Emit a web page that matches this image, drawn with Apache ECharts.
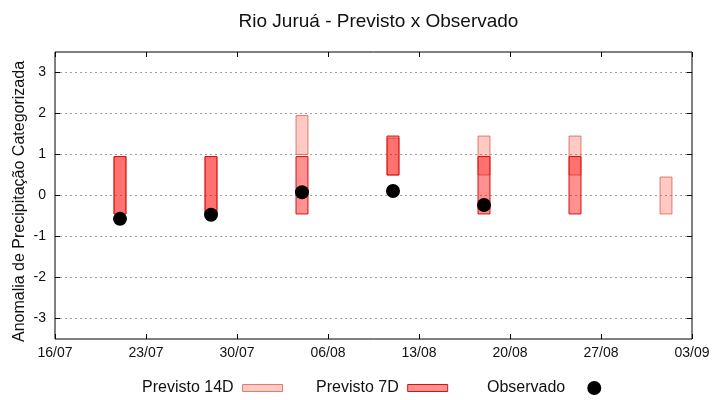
<!DOCTYPE html>
<html>
<head>
<meta charset="utf-8">
<script src="https://cdn.jsdelivr.net/npm/echarts@6/dist/echarts.min.js"></script>
<style>html,body{margin:0;padding:0;background:#fff}#c{width:720px;height:400px}</style>
</head>
<body>
<div id="c"></div>
<script>
// ---- data ----
var startDate = '2024-07-16';
var endDate = '2024-09-03';
var dates = ['2024-07-21','2024-07-28','2024-08-04','2024-08-11','2024-08-18','2024-08-25','2024-09-01'];
var prev14Low  = [-0.45, -0.45, 1.0, 0.5, 0.5, 0.5, -0.45];
var prev14High = [ 0.95,  0.95, 1.95, 1.4, 1.45, 1.45, 0.45];
var prev7Low   = [-0.45, -0.45, -0.45, 0.5, -0.45, -0.45, null];
var prev7High  = [ 0.95,  0.95,  0.95, 1.45, 0.95, 0.95, null];
var observado  = [-0.57, -0.47, 0.08, 0.11, -0.23, null, null];
var yTicks = [-3, -2, -1, 0, 1, 2, 3];

var DAY = 86400000;
function dayIndex(s){ return (Date.parse(s) - Date.parse(startDate)) / DAY; }
function dayLabel(v){
  var d = new Date(Date.parse(startDate) + v * DAY);
  var dd = ('0' + d.getUTCDate()).slice(-2), mm = ('0' + (d.getUTCMonth() + 1)).slice(-2);
  return dd + '/' + mm;
}
var xMax = dayIndex(endDate);

function rangeData(lo, hi){
  var out = [];
  for (var i = 0; i < dates.length; i++) {
    if (lo[i] != null && hi[i] != null) out.push([dayIndex(dates[i]), lo[i], hi[i]]);
  }
  return out;
}
var obsData = [];
for (var i = 0; i < dates.length; i++) if (observado[i] != null) obsData.push([dayIndex(dates[i]), observado[i]]);

var HALF = 0.46;
function renderBar(params, api){
  var x = api.value(0);
  var p1 = api.coord([x - HALF, api.value(2)]);
  var p2 = api.coord([x + HALF, api.value(1)]);
  return {
    type: 'rect',
    shape: { x: p1[0], y: p1[1], width: p2[0] - p1[0], height: p2[1] - p1[1] },
    style: api.style()
  };
}

var style14 = { color: 'rgba(255,40,20,0.25)', borderColor: 'rgba(215,90,70,0.75)', borderWidth: 1 };
var style7  = { color: 'rgba(255,0,0,0.43)', borderColor: '#d81010', borderWidth: 1 };

var font = 'Liberation Sans, Arial, sans-serif';
function legendAt(left, item){
  return {
    top: 380, left: left, padding: 0,
    align: 'right', itemWidth: 40, itemHeight: 14,
    symbolKeepAspect: true,
    textStyle: { fontSize: 16, color: '#111', fontFamily: font, padding: [0, 4, 0, 0] },
    data: [item]
  };
}
var rectIcon = 'path://M0,0 L40,0 L40,7 L0,7 Z';

var chart = echarts.init(document.getElementById('c'), null, { renderer: 'canvas' });
chart.setOption({
  animation: false,
  backgroundColor: '#fff',
  textStyle: { fontFamily: font },
  title: {
    text: 'Rio Juruá - Previsto x Observado',
    left: 373.5, textAlign: 'center', top: 7,
    textStyle: { fontSize: 19, fontWeight: 'normal', color: '#111', fontFamily: font }
  },
  grid: { left: 55, right: 28, top: 52, bottom: 61, show: true, borderColor: '#000', borderWidth: 1, backgroundColor: 'transparent' },
  legend: [
    legendAt(142, { name: 'Previsto 14D', icon: rectIcon, itemStyle: style14 }),
    legendAt(316, { name: 'Previsto 7D', icon: rectIcon, itemStyle: style7 }),
    legendAt(487, { name: 'Observado', icon: 'circle', itemStyle: { color: '#000', opacity: 1 } })
  ],
  xAxis: [{
    type: 'value', min: 0, max: xMax, interval: 7,
    axisLine: { show: false, onZero: false },
    axisTick: { show: true, inside: true, length: 5, lineStyle: { color: '#000' } },
    axisLabel: { formatter: dayLabel, fontSize: 14, color: '#111', margin: 7, fontFamily: font },
    splitLine: { show: false }
  }, {
    type: 'value', min: 0, max: xMax, interval: 7, position: 'top',
    axisLine: { show: false, onZero: false },
    axisTick: { show: true, inside: true, length: 5, lineStyle: { color: '#000' } },
    axisLabel: { show: false },
    splitLine: { show: false }
  }],
  yAxis: [{
    type: 'value', min: -3.5, max: 3.5,
    name: 'Anomalia de Precipitação Categorizada',
    nameLocation: 'middle', nameGap: 27, nameRotate: 90, nameMoveOverlap: false,
    nameTextStyle: { fontSize: 16, color: '#111', fontFamily: font, padding: [0, 12, 0, 0] },
    axisLine: { show: false, onZero: false },
    axisTick: { show: true, inside: true, length: 5, lineStyle: { color: '#000' }, customValues: yTicks },
    axisLabel: { fontSize: 14, color: '#111', margin: 9, fontFamily: font, customValues: yTicks },
    splitLine: { show: true, lineStyle: { color: '#a0a0a0', type: [2, 3], width: 1 } }
  }, {
    type: 'value', min: -3.5, max: 3.5, position: 'right',
    axisLine: { show: false, onZero: false },
    axisTick: { show: true, inside: true, length: 5, lineStyle: { color: '#000' }, customValues: yTicks },
    axisLabel: { show: false, customValues: yTicks },
    splitLine: { show: false }
  }],
  series: [{
    name: 'Previsto 14D', type: 'custom', renderItem: renderBar,
    encode: { x: 0, y: [1, 2] }, itemStyle: style14, data: rangeData(prev14Low, prev14High), z: 2
  }, {
    name: 'Previsto 7D', type: 'custom', renderItem: renderBar,
    encode: { x: 0, y: [1, 2] }, itemStyle: style7, data: rangeData(prev7Low, prev7High), z: 3
  }, {
    name: 'Observado', type: 'scatter', symbol: 'circle', symbolSize: 14,
    itemStyle: { color: '#000', opacity: 1 }, data: obsData, z: 4
  }]
});
</script>
</body>
</html>
